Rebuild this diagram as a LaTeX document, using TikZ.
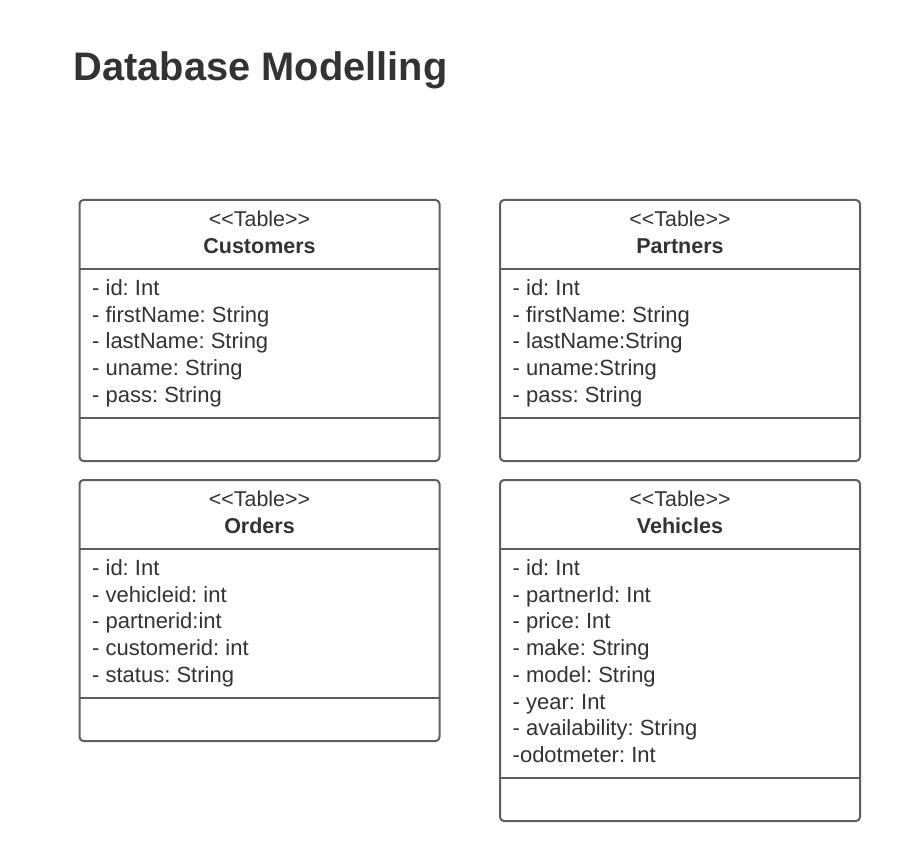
\documentclass[tikz,border=0pt]{standalone}
\usepackage{fontspec}
\setmainfont{Liberation Sans}
\frenchspacing
\definecolor{txt}{HTML}{333333}
\definecolor{edge}{HTML}{5E5E5E}
\begin{document}
\begin{tikzpicture}[x=1pt,y=-1pt,
  tbl/.style={draw=edge,line width=2pt,rounded corners=4pt,fill=white},
  sep/.style={draw=edge,line width=2pt},
  attr/.style={anchor=base west,inner sep=0pt,text=txt,font=\fontsize{22}{25}\selectfont},
  hdr/.style={anchor=base,inner sep=0pt,text=txt,font=\fontsize{21.4}{25}\selectfont},
  hdrb/.style={anchor=base,inner sep=0pt,text=txt,font=\fontsize{21.5}{25}\selectfont\bfseries}]
\useasboundingbox[fill=white] (0,0) rectangle (900,861);
\node[anchor=base west,inner sep=0pt,text=txt,font=\fontsize{39.8}{44}\selectfont\bfseries] (title) at (73.5,81) {Database Modelling};

% Customers
\draw[tbl] (79.5,200) rectangle (439.5,461);
\draw[sep] (79.5,269.3) -- (439.5,269.3);
\draw[sep] (79.5,417.7) -- (439.5,417.7);
\node[hdr] (cst) at (259.5,226.7) {<{}<Table>{}>};
\node[hdrb] (cn) at (259.5,253.3) {Customers};
\node[attr] (c1) at (92,295.5) {- id: Int};
\node[attr] (c2) at (92,322.2) {- firstName: String};
\node[attr] (c3) at (92,348.9) {- lastName: String};
\node[attr] (c4) at (92,375.6) {- uname: String};
\node[attr] (c5) at (92,402.3) {- pass: String};

% Partners
\draw[tbl] (500,200) rectangle (860,461);
\draw[sep] (500,269.3) -- (860,269.3);
\draw[sep] (500,417.7) -- (860,417.7);
\node[hdr] (pst) at (680,226.7) {<{}<Table>{}>};
\node[hdrb] (pn) at (680,253.3) {Partners};
\node[attr] (p1) at (512.5,295.5) {- id: Int};
\node[attr] (p2) at (512.5,322.2) {- firstName: String};
\node[attr] (p3) at (512.5,348.9) {- lastName:String};
\node[attr] (p4) at (512.5,375.6) {- uname:String};
\node[attr] (p5) at (512.5,402.3) {- pass: String};

% Orders
\draw[tbl] (79.5,480) rectangle (439.5,741);
\draw[sep] (79.5,549.3) -- (439.5,549.3);
\draw[sep] (79.5,697.7) -- (439.5,697.7);
\node[hdr] (ost) at (259.5,506.7) {<{}<Table>{}>};
\node[hdrb] (on) at (259.5,533.3) {Orders};
\node[attr] (o1) at (92,575.5) {- id: Int};
\node[attr] (o2) at (92,602.2) {- vehicleid: int};
\node[attr] (o3) at (92,628.9) {- partnerid:int};
\node[attr] (o4) at (92,655.6) {- customerid: int};
\node[attr] (o5) at (92,682.3) {- status: String};

% Vehicles
\draw[tbl] (500,480) rectangle (860,821);
\draw[sep] (500,549.3) -- (860,549.3);
\draw[sep] (500,778.3) -- (860,778.3);
\node[hdr] (vst) at (680,506.7) {<{}<Table>{}>};
\node[hdrb] (vn) at (680,533.3) {Vehicles};
\node[attr] (v1) at (512.5,575.5) {- id: Int};
\node[attr] (v2) at (512.5,602.2) {- partnerId: Int};
\node[attr] (v3) at (512.5,628.9) {- price: Int};
\node[attr] (v4) at (512.5,655.6) {- make: String};
\node[attr] (v5) at (512.5,682.3) {- model: String};
\node[attr] (v6) at (512.5,709.0) {- year: Int};
\node[attr] (v7) at (512.5,735.7) {- availability: String};
\node[attr] (v8) at (512.5,762.4) {-odotmeter: Int};
\end{tikzpicture}
\end{document}
